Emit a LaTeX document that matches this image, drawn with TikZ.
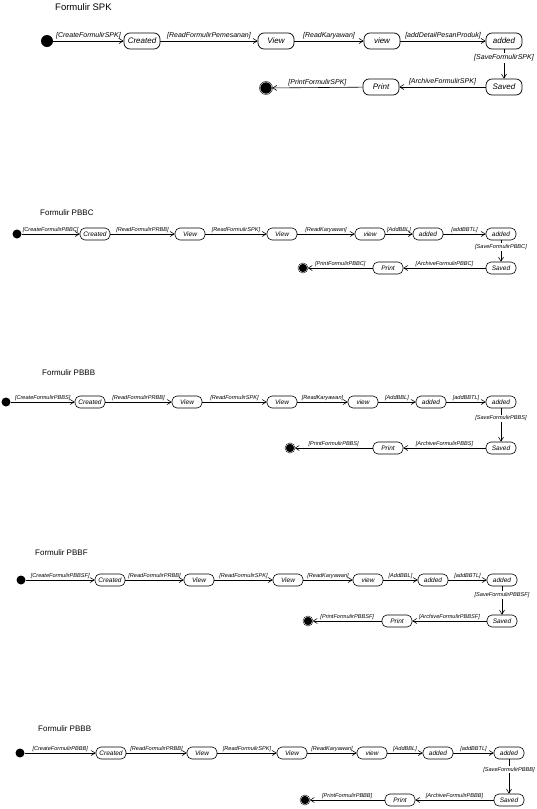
\documentclass[tikz,border=0pt]{standalone}
\usepackage{fontspec}
\setmainfont{Liberation Sans}
\usetikzlibrary{arrows.meta}
\tikzset{
  bigstate/.style={draw, line width=0.7pt, rounded corners=6pt, minimum width=36pt, minimum height=16pt, inner sep=0pt, font=\fontsize{8}{9}\selectfont\itshape},
  smallstate/.style={draw, line width=0.6pt, rounded corners=5pt, minimum width=30pt, minimum height=12pt, inner sep=0pt, font=\fontsize{6.5}{7}\selectfont\itshape},
  startdot/.style={circle, fill=black, inner sep=0pt, minimum size=#1},
  enddot/.style={circle, draw, fill=black, line width=0.5pt, double=white, double distance=0.4pt, inner sep=0pt, minimum size=#1},
  trans/.style={-{Straight Barb[length=4pt,width=5pt]}, line width=0.6pt},
  biglbl/.style={font=\fontsize{7}{8}\selectfont\itshape, inner sep=1.5pt},
  smalllbl/.style={font=\fontsize{5.6}{6.5}\selectfont\itshape, inner sep=1.2pt},
  bigtitle/.style={anchor=west, inner sep=0pt, font=\fontsize{9.5}{11}\selectfont},
  smalltitle/.style={anchor=west, inner sep=0pt, font=\fontsize{8}{9}\selectfont}
}
\begin{document}
\begin{tikzpicture}[x=1pt, y=-1pt]
\useasboundingbox (0,0) rectangle (537,809);

\node[bigtitle] (spk) at (55,7) {Formulir SPK};
\node[startdot=12pt] (i1) at (47,41) {};
\node[bigstate] (c1) at (142,41) {Created};
\node[bigstate] (v1) at (276,41) {View};
\node[bigstate] (w1) at (382,41) {view};
\node[bigstate] (a1) at (504,41) {added};
\node[bigstate] (s1) at (504,87) {Saved};
\node[bigstate] (p1) at (381,87) {Print};
\node[enddot=12pt] (f1) at (266,88) {};
\draw[trans] (i1) -- node[biglbl, above] {[CreateFormulirSPK]} (c1);
\draw[trans] (c1) -- node[biglbl, above] {[ReadFormulirPemesanan]} (v1);
\draw[trans] (v1) -- node[biglbl, above] {[ReadKaryawan]} (w1);
\draw[trans] (w1) -- node[biglbl, above] {[addDetailPesanProduk]} (a1);
\draw[trans] (a1) -- node[biglbl, pos=0.3, fill=white] {[SaveFormulirSPK]} (s1);
\draw[trans] (s1) -- node[biglbl, above] {[ArchiveFormulirSPK]} (p1);
\draw[trans] (p1) -- node[biglbl, above] {[PrintFormulirSPK]} (f1);

\node[smalltitle] (pbbc) at (40,213) {Formulir PBBC};
\node[startdot=9pt] (i2) at (17,234) {};
\node[smallstate] (c2) at (95,234) {Created};
\node[smallstate] (v2) at (190,234) {View};
\node[smallstate] (u2) at (282,234) {View};
\node[smallstate] (w2) at (370,234) {view};
\node[smallstate] (a2) at (428,234) {added};
\node[smallstate] (b2) at (501,234) {added};
\node[smallstate] (s2) at (501,268) {Saved};
\node[smallstate] (p2) at (388,268) {Print};
\node[enddot=9pt] (f2) at (303,268) {};
\draw[trans] (i2) -- node[smalllbl, above] {[CreateFormulirPBBC]} (c2);
\draw[trans] (c2) -- node[smalllbl, above] {[ReadFormulirPRBB]} (v2);
\draw[trans] (v2) -- node[smalllbl, above] {[ReadFormulirSPK]} (u2);
\draw[trans] (u2) -- node[smalllbl, above] {[ReadKaryawan]} (w2);
\draw[trans] (w2) -- node[smalllbl, above] {[AddBBL]} (a2);
\draw[trans] (a2) -- node[smalllbl, above] {[addBBTL]} (b2);
\draw[trans] (b2) -- node[smalllbl, pos=0.3, fill=white] {[SaveFormulirPBBC]} (s2);
\draw[trans] (s2) -- node[smalllbl, above] {[ArchiveFormulirPBBC]} (p2);
\draw[trans] (p2) -- node[smalllbl, above] {[PrintFormulirPBBC]} (f2);

\node[smalltitle] (pbbs) at (42,373) {Formulir PBBB};
\node[startdot=9pt] (i3) at (6,402) {};
\node[smallstate] (c3) at (90,402) {Created};
\node[smallstate] (v3) at (187,402) {View};
\node[smallstate] (u3) at (282,402) {View};
\node[smallstate] (w3) at (363,402) {view};
\node[smallstate] (a3) at (431,402) {added};
\node[smallstate] (b3) at (501,402) {added};
\node[smallstate] (s3) at (501,448) {Saved};
\node[smallstate] (p3) at (388,448) {Print};
\node[enddot=9pt] (f3) at (290,448) {};
\draw[trans] (i3) -- node[smalllbl, above] {[CreateFormulirPBBS]} (c3);
\draw[trans] (c3) -- node[smalllbl, above] {[ReadFormulirPRBB]} (v3);
\draw[trans] (v3) -- node[smalllbl, above] {[ReadFormulirSPK]} (u3);
\draw[trans] (u3) -- node[smalllbl, above] {[ReadKaryawan]} (w3);
\draw[trans] (w3) -- node[smalllbl, above] {[AddBBL]} (a3);
\draw[trans] (a3) -- node[smalllbl, above] {[addBBTL]} (b3);
\draw[trans] (b3) -- node[smalllbl, pos=0.3, fill=white] {[SaveFormulirPBBS]} (s3);
\draw[trans] (s3) -- node[smalllbl, above] {[ArchiveFormulirPBBS]} (p3);
\draw[trans] (p3) -- node[smalllbl, above] {[PrintFormulirPBBS]} (f3);

\node[smalltitle] (pbbf) at (35,553) {Formulir PBBF};
\node[startdot=9pt] (i4) at (21,580) {};
\node[smallstate] (c4) at (110,580) {Created};
\node[smallstate] (v4) at (199,580) {View};
\node[smallstate] (u4) at (288,580) {View};
\node[smallstate] (w4) at (368,580) {view};
\node[smallstate] (a4) at (433,580) {added};
\node[smallstate] (b4) at (502,580) {added};
\node[smallstate] (s4) at (502,621) {Saved};
\node[smallstate] (p4) at (397,621) {Print};
\node[enddot=9pt] (f4) at (308,621) {};
\draw[trans] (i4) -- node[smalllbl, above] {[CreateFormulirPBBSF]} (c4);
\draw[trans] (c4) -- node[smalllbl, above] {[ReadFormulirPRBB]} (v4);
\draw[trans] (v4) -- node[smalllbl, above] {[ReadFormulirSPK]} (u4);
\draw[trans] (u4) -- node[smalllbl, above] {[ReadKaryawan]} (w4);
\draw[trans] (w4) -- node[smalllbl, above] {[AddBBL]} (a4);
\draw[trans] (a4) -- node[smalllbl, above] {[addBBTL]} (b4);
\draw[trans] (b4) -- node[smalllbl, pos=0.3, fill=white] {[SaveFormulirPBBSF]} (s4);
\draw[trans] (s4) -- node[smalllbl, above] {[ArchiveFormulirPBBSF]} (p4);
\draw[trans] (p4) -- node[smalllbl, above] {[PrintFormulirPBBSF]} (f4);

\node[smalltitle] (pbbb) at (38,729) {Formulir PBBB};
\node[startdot=9pt] (i5) at (20,753) {};
\node[smallstate] (c5) at (111,753) {Created};
\node[smallstate] (v5) at (202,753) {View};
\node[smallstate] (u5) at (292,753) {View};
\node[smallstate] (w5) at (372,753) {view};
\node[smallstate] (a5) at (438,753) {added};
\node[smallstate] (b5) at (509,753) {added};
\node[smallstate] (s5) at (509,800) {Saved};
\node[smallstate] (p5) at (400,800) {Print};
\node[enddot=9pt] (f5) at (305,800) {};
\draw[trans] (i5) -- node[smalllbl, above] {[CreateFormulirPBBB]} (c5);
\draw[trans] (c5) -- node[smalllbl, above] {[ReadFormulirPRBB]} (v5);
\draw[trans] (v5) -- node[smalllbl, above] {[ReadFormulirSPK]} (u5);
\draw[trans] (u5) -- node[smalllbl, above] {[ReadKaryawan]} (w5);
\draw[trans] (w5) -- node[smalllbl, above] {[AddBBL]} (a5);
\draw[trans] (a5) -- node[smalllbl, above] {[addBBTL]} (b5);
\draw[trans] (b5) -- node[smalllbl, pos=0.3, fill=white] {[SaveFormulirPBBB]} (s5);
\draw[trans] (s5) -- node[smalllbl, above] {[ArchiveFormulirPBBB]} (p5);
\draw[trans] (p5) -- node[smalllbl, above] {[PrintFormulirPBBB]} (f5);
\end{tikzpicture}
\end{document}
